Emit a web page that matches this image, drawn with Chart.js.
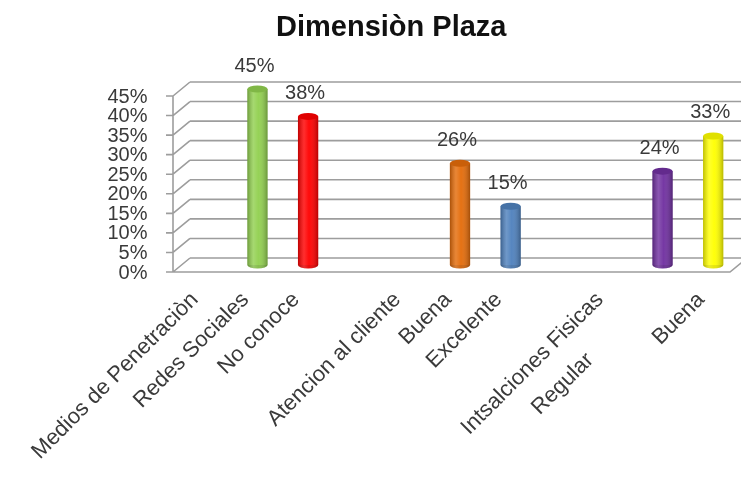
<!DOCTYPE html>
<html>
<head>
<meta charset="utf-8">
<script src="https://cdn.jsdelivr.net/npm/chart.js@4.4.0/dist/chart.umd.min.js"></script>
<style>
  html, body { margin: 0; padding: 0; background: #ffffff; }
  #wrap { width: 741px; height: 479px; position: relative; }
</style>
</head>
<body>
<div id="wrap"><canvas id="c" width="741" height="479"></canvas></div>
<script>
// ---- data ----
const chartTitle = 'Dimensiòn Plaza';
const categories = [
  'Medios de Penetraciòn',
  'Redes Sociales',
  'No conoce',
  '',
  'Atencion al cliente',
  'Buena',
  'Excelente',
  '',
  'Intsalciones Fisicas',
  'Regular              ',
  'Buena'
];
const values = [null, 0.45, 0.38, null, null, 0.26, 0.15, null, null, 0.24, 0.33];
const barColors = ['#92d050', '#92d050', '#ff0000', '#cccccc', '#cccccc', '#e46c0a', '#4f81bd', '#cccccc', '#cccccc', '#7030a0', '#ffff00'];
const yTickValues = [0, 0.05, 0.10, 0.15, 0.20, 0.25, 0.30, 0.35, 0.40, 0.45];

const FONT = "'Liberation Sans', Arial, sans-serif";
const TEXT = '#3a3a3a';
const DX = 8.5, DY = 7;

function pct(v) { return Math.round(v * 100) + '%'; }

function shade(hex, f) {
  const n = parseInt(hex.slice(1), 16);
  let r = (n >> 16) & 255, g = (n >> 8) & 255, b = n & 255;
  if (f >= 0) { r += (255 - r) * f; g += (255 - g) * f; b += (255 - b) * f; }
  else { r *= 1 + f; g *= 1 + f; b *= 1 + f; }
  return 'rgb(' + Math.round(r) + ',' + Math.round(g) + ',' + Math.round(b) + ')';
}

const frame3d = {
  id: 'frame3d',
  beforeDatasetsDraw(chart) {
    const ctx = chart.ctx, a = chart.chartArea, ys = chart.scales.y;
    ctx.save();
    ctx.strokeStyle = '#9d9d9d';
    ctx.lineWidth = 1.6;
    const y0 = ys.getPixelForValue(0);
    const yTop = ys.getPixelForValue(yTickValues[yTickValues.length - 1]);
    ctx.beginPath();
    yTickValues.forEach(v => {
      const y = ys.getPixelForValue(v);
      ctx.moveTo(a.left + DX, y - DY); ctx.lineTo(chart.width, y - DY);
      ctx.moveTo(a.left - DX, y + DY); ctx.lineTo(a.left + DX, y - DY);
      ctx.moveTo(a.left - DX - 7, y + DY); ctx.lineTo(a.left - DX, y + DY);
    });
    ctx.moveTo(a.left - DX, yTop + DY); ctx.lineTo(a.left - DX, y0 + DY);
    ctx.moveTo(a.left - DX, y0 + DY); ctx.lineTo(a.right - DX, y0 + DY);
    ctx.lineTo(a.right + DX, y0 - DY);
    ctx.stroke();
    ctx.restore();
  },
  afterDatasetsDraw(chart) {
    const ctx = chart.ctx;
    const meta = chart.getDatasetMeta(0);
    ctx.save();
    meta.data.forEach((el, i) => {
      const v = values[i];
      if (v === null || v === undefined) return;
      const col = barColors[i];
      const w = el.width, x = el.x, top = el.y, base = el.base;
      const l = x - w / 2;
      const ry = 3.5;
      ctx.beginPath();
      ctx.ellipse(x, base, w / 2, ry, 0, 0, Math.PI);
      ctx.fillStyle = shade(col, -0.1);
      ctx.fill();
      const g = ctx.createLinearGradient(l, 0, l + w, 0);
      g.addColorStop(0, 'rgba(0,0,0,0.25)');
      g.addColorStop(0.3, 'rgba(255,255,255,0.18)');
      g.addColorStop(0.55, 'rgba(255,255,255,0.04)');
      g.addColorStop(1, 'rgba(0,0,0,0.28)');
      ctx.fillStyle = g;
      ctx.fillRect(l, top, w, base - top);
      ctx.beginPath();
      ctx.ellipse(x, base, w / 2, ry, 0, 0, Math.PI);
      ctx.fill();
      ctx.beginPath();
      ctx.ellipse(x, top, w / 2, ry, 0, 0, Math.PI * 2);
      ctx.fillStyle = shade(col, -0.12);
      ctx.fill();
      ctx.fillStyle = TEXT;
      ctx.font = '20px ' + FONT;
      ctx.textAlign = 'center';
      ctx.textBaseline = 'middle';
      ctx.fillText(pct(v), x - 3, top - 23);
    });
    ctx.restore();
  }
};

new Chart(document.getElementById('c'), {
  type: 'bar',
  data: {
    labels: categories,
    datasets: [{
      data: values,
      backgroundColor: barColors,
      borderWidth: 0,
      barPercentage: 0.4,
      categoryPercentage: 1.0,
      clip: false
    }]
  },
  options: {
    responsive: false,
    animation: false,
    devicePixelRatio: 1,
    layout: { padding: { left: 44, right: 2.5, top: 0, bottom: 0 } },
    plugins: {
      legend: { display: false },
      tooltip: { enabled: false },
      title: {
        display: true,
        text: chartTitle,
        color: '#111111',
        font: { family: FONT, size: 29, weight: 'bold' },
        padding: { top: 11, bottom: 43.2 }
      }
    },
    scales: {
      x: {
        grid: { display: false, drawTicks: false },
        border: { display: false },
        ticks: {
          autoSkip: false,
          minRotation: 45,
          maxRotation: 45,
          padding: 22,
          labelOffset: -12,
          color: TEXT,
          font: { family: FONT, size: 22 }
        },
        afterFit(scale) {
          scale.height = 214;
          scale.paddingLeft = 0;
          scale.paddingRight = 0;
        }
      },
      y: {
        min: 0,
        max: 0.45,
        grid: { display: false, drawTicks: false },
        border: { display: false },
        afterBuildTicks(scale) { scale.ticks = yTickValues.map(v => ({ value: v })); },
        ticks: {
          autoSkip: false,
          padding: 34,
          labelOffset: 8,
          color: TEXT,
          font: { family: FONT, size: 20 },
          callback: v => pct(v)
        },
        afterFit(scale) {
          scale.width = 137.5;
          scale.paddingTop = 0;
          scale.paddingBottom = 0;
        }
      }
    }
  },
  plugins: [frame3d]
});
</script>
</body>
</html>
